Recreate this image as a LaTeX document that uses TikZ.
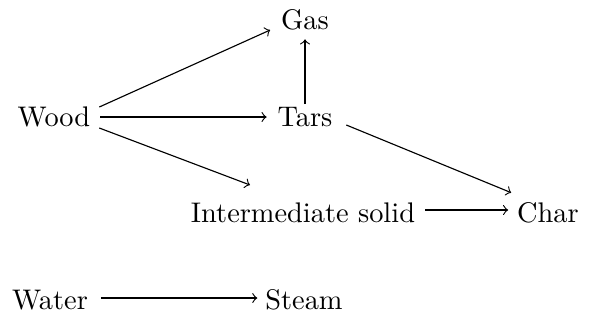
\documentclass[tikz,border=0pt]{standalone}
\usetikzlibrary{calc}
\begin{document}
\begin{tikzpicture}[x=0.3525pt,y=-0.3525pt,
  lbl/.style={font=\fontsize{10}{12}\selectfont},
  arr/.style={->,line width=0.4pt}]
\useasboundingbox (0,0) rectangle (590,320);
\node[lbl] (gas) at (305,20) {Gas};
\node[lbl] (wood) at (54,117) {Wood};
\node[lbl] (tars) at (305,117) {Tars};
\node[lbl] (inter) at (303,213) {Intermediate solid};
\node[lbl] (char) at (548,213) {Char};
\node[lbl] (water) at (50,300) {Water};
\node[lbl] (steam) at (304,300) {Steam};
\draw[arr] ($(wood.east)+(-1,-10)$) -- ($(gas.west)+(-1,10)$);
\draw[arr] ($(wood.east)+(0,0)$) -- ($(tars.west)+(-1,0)$);
\draw[arr] ($(wood.east)+(-1,11)$) -- ($(inter.north)+(-53,-8)$);
\draw[arr] ($(tars.north)+(0,7)$) -- ($(gas.south)+(0,-1)$);
\draw[arr] ($(tars.east)+(4,8)$) -- ($(char.north west)+(4,0)$);
\draw[arr] ($(inter.east)+(0,-3)$) -- ($(char.west)+(1,-3)$);
\draw[arr] ($(water.east)+(3,-2)$) -- ($(steam.west)+(2,-2)$);
\end{tikzpicture}
\end{document}
